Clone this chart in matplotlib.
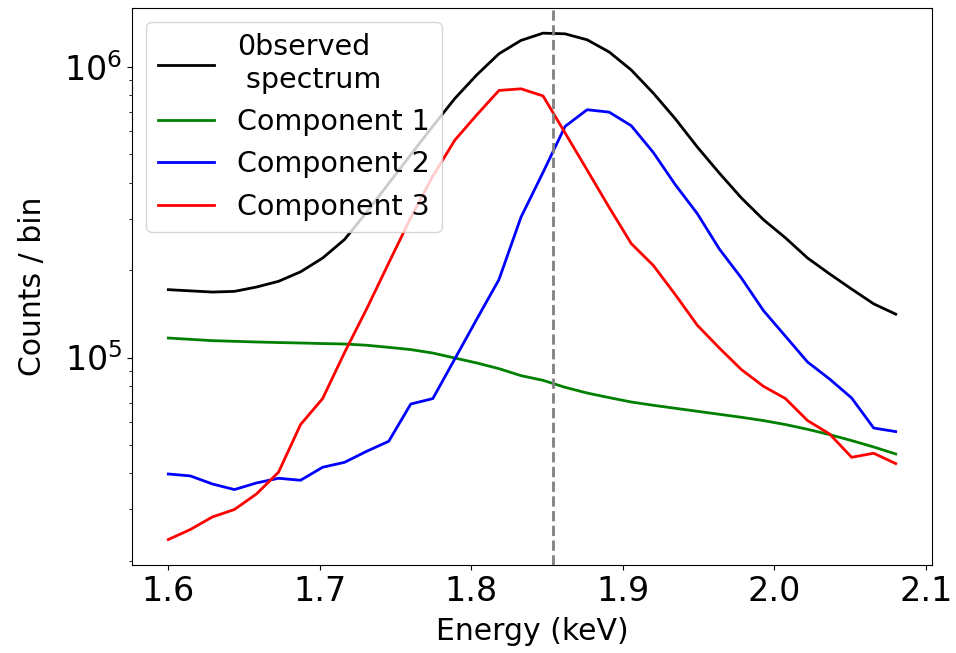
import numpy as np
import matplotlib
matplotlib.use("Agg")
import matplotlib.pyplot as plt

# energy grid (keV), 34 bins
energy = np.linspace(1.6, 2.08, 34)

observed = [171200, 169600, 168000, 168900, 174800, 182900, 197200, 219900,
            255000, 316400, 397300, 499100, 625200, 779000, 940100, 1110000,
            1234000, 1307000, 1300000, 1240000, 1126000, 976500, 813000, 663000,
            530000, 431000, 354000, 298000, 258000, 220000, 194000, 172000,
            153000, 141000]

comp1 = [116700, 115500, 114300, 113700, 113100, 112600, 112200, 111700,
         111300, 110200, 108400, 106500, 103600, 99600, 95750, 91560,
         86620, 83470, 78970, 75480, 72780, 70300, 68490, 66880,
         65300, 63770, 62280, 60670, 58790, 56620, 54290, 51780,
         49220, 46560]

comp2 = [39740, 39130, 36710, 35120, 37010, 38410, 37810, 41910,
         43600, 47570, 51490, 69180, 72220, 98970, 135800, 185400,
         304100, 433600, 624300, 712500, 699000, 627800, 508000, 393300,
         312600, 236200, 187700, 145000, 118300, 96500, 84330, 72560,
         57200, 55600]

comp3 = [23640, 25590, 28270, 29990, 33920, 40290, 58790, 72220,
         104200, 147100, 211500, 303000, 421000, 560000, 684800, 830000,
         841000, 794800, 592900, 441900, 328600, 246800, 207600, 164600,
         129100, 107800, 90860, 79600, 72210, 60670, 54560, 45360,
         46830, 43150]

line_energy = 1.854

fig, ax = plt.subplots(figsize=(9.56, 6.53), dpi=100)
fig.subplots_adjust(left=0.138, right=0.975, top=0.988, bottom=0.135)

ax.plot(energy, observed, color='black', lw=2, label='0bserved\n spectrum')
ax.plot(energy, comp1, color='green', lw=2, label='Component 1')
ax.plot(energy, comp2, color='blue', lw=2, label='Component 2')
ax.plot(energy, comp3, color='red', lw=2, label='Component 3')
ax.axvline(line_energy, color='gray', linestyle='--', lw=2)

ax.set_yscale('log')
ax.set_xlabel('Energy (keV)', fontsize=21.5, labelpad=7)
ax.set_ylabel('Counts / bin', fontsize=21.5, labelpad=12)
ax.tick_params(axis='both', which='major', labelsize=24)
ax.legend(loc='upper left', fontsize=20.5)

fig.savefig('out.png', dpi=100)
